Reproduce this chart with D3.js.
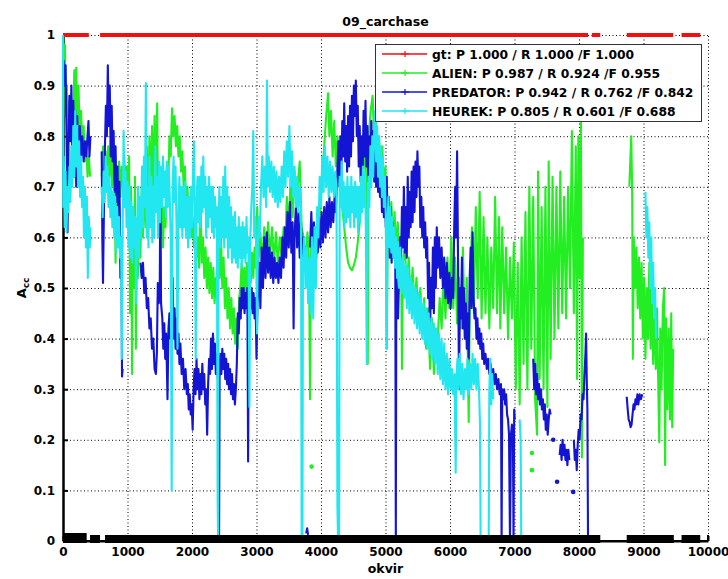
<!DOCTYPE html>
<html><head><meta charset="utf-8">
<script src="https://cdn.jsdelivr.net/npm/d3@7"></script>
<style>
body{margin:0;background:#fff}
svg{display:block}
text{font-family:"DejaVu Sans",sans-serif;font-weight:bold;fill:#000}
</style>
</head><body>
<svg id="c" width="728" height="579"></svg>
<script>
const title = "09_carchase";
const xLabel = "okvir";
const yLabelMain = "A", yLabelSub = "cc";
const xTicks = [0,1000,2000,3000,4000,5000,6000,7000,8000,9000,10000];
const yTicks = [0,0.1,0.2,0.3,0.4,0.5,0.6,0.7,0.8,0.9,1];
const legendLabels = [
  "gt: P 1.000 / R 1.000 /F 1.000",
  "ALIEN: P 0.987 / R 0.924 /F 0.955",
  "PREDATOR: P 0.942 / R 0.762 /F 0.842",
  "HEUREK: P 0.805 / R 0.601 /F 0.688"
];
const colors = ["#f01010","#22ee22","#1414d4","#22e6f0"];

// ground truth (y=1 while present)
const gt = [[0,1],[400,1],null,[575,1],[8140,1],null,[8200,1],[8330,1],null,[8740,1],[9460,1],null,[9590,1],[9880,1]];

// ALIEN
const alien = [
[0,1.0],[15,0.93],[30,0.98],[45,0.84],[60,0.9],[80,0.8],[100,0.87],[120,0.81],[140,0.86],[160,0.83],[175,0.93],[190,0.84],[205,0.935],[220,0.82],[240,0.9],[260,0.8],[280,0.85],[300,0.78],[320,0.82],[340,0.75],[360,0.79],[380,0.72],[400,0.76],[420,0.72],null,
[600,0.72],[620,0.78],[640,0.7],[660,0.77],[680,0.7],[700,0.78],[720,0.72],[740,0.79],[760,0.7],[780,0.76],[800,0.72],[815,0.55],[830,0.74],[850,0.69],[870,0.75],[890,0.68],[910,0.74],[930,0.7],[950,0.76],[970,0.7],[990,0.74],
[1010,0.62],[1025,0.76],[1040,0.45],[1055,0.7],[1070,0.33],[1085,0.66],[1100,0.5],[1115,0.72],[1130,0.38],[1145,0.62],[1160,0.52],[1180,0.68],[1200,0.56],[1220,0.7],[1240,0.6],[1260,0.74],[1280,0.62],[1300,0.78],[1320,0.64],[1340,0.8],[1360,0.66],[1380,0.82],[1400,0.68],[1420,0.84],[1440,0.7],[1460,0.865],[1475,0.62],[1490,0.7],[1510,0.6],[1530,0.68],[1550,0.58],[1570,0.66],[1590,0.62],[1610,0.74],[1630,0.7],[1650,0.8],[1670,0.76],[1690,0.855],[1710,0.8],[1730,0.84],[1750,0.78],[1770,0.82],[1790,0.76],[1810,0.8],[1830,0.73],[1850,0.77],[1870,0.7],[1890,0.74],[1910,0.66],[1930,0.7],[1950,0.62],[1970,0.67],[1990,0.6],[2010,0.64],[2030,0.58],[2050,0.62],[2070,0.56],[2090,0.6],[2110,0.54],[2130,0.69],[2150,0.55],[2170,0.6],[2190,0.52],[2210,0.58],[2230,0.5],[2250,0.56],[2270,0.49],[2290,0.55],[2310,0.48],[2330,0.54],[2350,0.47],[2370,0.52],[2390,0.5],[2410,0.64],[2430,0.52],[2450,0.6],[2470,0.5],[2490,0.56],[2510,0.46],[2530,0.52],[2550,0.44],[2570,0.5],[2590,0.42],[2610,0.48],[2630,0.41],[2650,0.46],[2670,0.39],[2690,0.44],[2710,0.38],[2730,0.48],[2750,0.5],[2770,0.55],[2790,0.49],[2810,0.54],[2830,0.48],[2850,0.55],[2870,0.5],[2890,0.56],[2910,0.51],[2930,0.57],[2950,0.52],[2970,0.58],[2990,0.54],[3010,0.66],[3030,0.55],[3060,0.61],[3090,0.55],[3120,0.62],[3150,0.56],[3180,0.63],[3210,0.56],[3240,0.62],[3270,0.55],[3300,0.61],[3330,0.55],[3360,0.6],[3390,0.56],[3420,0.62],[3450,0.6],[3470,0.68],[3500,0.62],[3530,0.72],[3560,0.64],[3590,0.73],[3620,0.66],[3650,0.72],[3670,0.75],[3700,0.62],[3730,0.6],[3760,0.55],[3790,0.61],[3815,0.55],[3830,0.28],[3845,0.58],[3870,0.55],[3900,0.61],[3930,0.56],[3960,0.62],[3990,0.66],[4020,0.72],[4050,0.78],[4080,0.84],[4110,0.885],[4130,0.8],[4155,0.85],[4180,0.76],[4205,0.83],[4230,0.74],[4255,0.8],[4280,0.72],[4305,0.75],[4330,0.66],[4360,0.62],[4390,0.58],[4420,0.55],[4450,0.54],[4480,0.535],[4510,0.545],[4540,0.56],[4570,0.59],[4600,0.63],[4630,0.68],[4660,0.74],[4690,0.78],[4710,0.6],[4725,0.35],[4740,0.8],[4770,0.85],[4800,0.88],[4825,0.79],[4850,0.83],[4875,0.74],[4900,0.8],[4925,0.72],[4950,0.78],[4975,0.7],[5000,0.74],[5020,0.38],[5040,0.68],[5065,0.62],[5090,0.67],[5115,0.6],[5140,0.65],[5165,0.58],[5190,0.63],[5215,0.56],[5240,0.6],[5255,0.34],[5270,0.55],[5300,0.58],[5330,0.5],[5360,0.56],[5390,0.48],[5420,0.54],[5450,0.46],[5480,0.52],[5510,0.44],[5540,0.5],[5570,0.42],[5600,0.48],[5630,0.38],[5660,0.46],[5690,0.34],[5720,0.44],[5750,0.33],[5780,0.42],[5810,0.4],[5840,0.48],[5870,0.42],[5900,0.52],[5930,0.44],[5960,0.56],[5990,0.46],[6020,0.6],[6050,0.46],[6080,0.56],[6110,0.43],[6140,0.52],[6170,0.42],[6200,0.58],[6230,0.4],[6260,0.52],[6290,0.235],[6310,0.5],[6340,0.62],[6370,0.45],[6400,0.66],[6430,0.48],[6460,0.69],[6490,0.44],[6520,0.64],[6550,0.45],[6580,0.6],[6610,0.42],[6640,0.58],[6670,0.46],[6700,0.68],[6730,0.45],[6760,0.64],[6780,0.42],[6810,0.62],[6840,0.45],[6870,0.58],[6900,0.4],[6930,0.56],[6960,0.44],[6990,0.59],[7020,0.3],[7050,0.55],[7080,0.27],[7110,0.6],[7140,0.35],[7170,0.65],[7200,0.3],[7230,0.7],[7260,0.38],[7290,0.68],[7320,0.28],[7350,0.21],[7365,0.73],[7390,0.32],[7420,0.66],[7450,0.3],[7480,0.7],[7510,0.265],[7530,0.75],[7560,0.36],[7590,0.72],[7620,0.4],[7650,0.7],[7680,0.42],[7710,0.73],[7740,0.45],[7770,0.68],[7800,0.44],[7830,0.7],[7860,0.5],[7890,0.81],[7920,0.45],[7950,0.78],[7970,0.32],[7990,0.8],[8010,0.52],[8030,0.83],[8045,0.165],[8060,0.6],null,
[3855,0.147],null,[7270,0.174],null,[7270,0.14],null,
[8780,0.7],[8795,0.75],[8810,0.8],[8825,0.68],[8835,0.36],[8850,0.6],[8870,0.5],[8890,0.58],[8910,0.46],[8930,0.56],[8950,0.44],[8970,0.55],[8990,0.4],[9010,0.52],[9030,0.36],[9050,0.5],[9070,0.4],[9090,0.55],[9110,0.38],[9130,0.5],[9150,0.35],[9170,0.48],[9190,0.34],[9210,0.46],[9230,0.3],[9245,0.195],[9260,0.42],[9280,0.3],[9300,0.46],[9320,0.5],[9335,0.15],[9350,0.44],[9370,0.26],[9390,0.42],[9410,0.24],[9430,0.45],[9445,0.225],[9460,0.38]
];

// PREDATOR
const predator = [
[10,0.95],[25,0.9],[40,0.94],[55,0.8],[70,0.61],[85,0.78],[100,0.88],[115,0.79],[130,0.9],[145,0.76],[160,0.87],[175,0.72],[190,0.85],[205,0.7],[220,0.84],[240,0.75],[260,0.82],[280,0.76],[300,0.8],[320,0.75],[340,0.79],[360,0.76],[380,0.8],[395,0.83],[410,0.76],[425,0.8],null,
[600,0.77],[610,0.6],[620,0.51],[635,0.66],[650,0.78],[665,0.86],[680,0.8],[695,0.94],[710,0.82],[725,0.9],[740,0.76],[755,0.86],[770,0.75],[785,0.81],[800,0.69],[815,0.78],[830,0.67],[845,0.74],[860,0.6],[875,0.71],[890,0.52],[905,0.6],[915,0.325],[925,0.34],null,
[1200,0.55],[1220,0.52],[1240,0.55],[1260,0.49],[1280,0.52],[1300,0.46],[1320,0.48],[1340,0.42],[1360,0.44],[1380,0.38],[1400,0.4],[1420,0.34],[1440,0.33],[1455,0.37],[1470,0.51],[1485,0.47],[1500,0.5],[1510,0.72],[1520,0.47],[1540,0.44],[1555,0.38],[1570,0.43],[1585,0.36],[1600,0.41],[1620,0.28],[1635,0.42],[1650,0.45],[1665,0.4],[1680,0.48],[1700,0.52],[1715,0.4],[1730,0.46],[1745,0.38],[1760,0.44],[1775,0.37],[1790,0.41],[1805,0.35],[1820,0.39],[1840,0.33],[1860,0.36],[1880,0.3],[1900,0.34],[1920,0.29],[1935,0.31],[1950,0.26],[1965,0.29],[1980,0.25],[1995,0.27],[2010,0.22],[2025,0.3],[2040,0.34],[2055,0.29],[2070,0.36],[2085,0.3],[2100,0.34],[2115,0.28],[2130,0.33],[2145,0.29],[2160,0.35],[2175,0.3],[2190,0.33],[2205,0.27],[2220,0.3],[2235,0.21],[2250,0.31],[2265,0.36],[2280,0.33],[2295,0.4],[2310,0.34],[2325,0.41],[2340,0.35],[2355,0.39],[2370,0.33],[2385,0.37],[2400,0.32],[2412,0.35],[2420,0.0],[2428,0.34],[2440,0.37],[2455,0.33],[2470,0.38],[2485,0.34],[2500,0.37],[2515,0.32],[2530,0.36],[2545,0.31],[2560,0.35],[2575,0.3],[2590,0.34],[2605,0.29],[2620,0.33],[2635,0.28],[2650,0.31],[2665,0.27],[2680,0.3],[2695,0.35],[2710,0.45],[2725,0.41],[2740,0.48],[2755,0.44],[2770,0.5],[2785,0.46],[2800,0.5],[2815,0.45],[2830,0.49],[2845,0.46],[2858,0.5],[2870,0.157],[2882,0.48],[2895,0.51],[2910,0.46],[2925,0.5],[2940,0.45],[2955,0.49],[2970,0.44],[2985,0.48],[3000,0.36],[3015,0.47],[3030,0.5],[3045,0.55],[3060,0.46],[3080,0.58],[3100,0.5],[3120,0.6],[3140,0.52],[3160,0.61],[3180,0.53],[3200,0.58],[3220,0.52],[3240,0.57],[3260,0.51],[3280,0.56],[3300,0.52],[3320,0.55],[3340,0.51],[3360,0.56],[3380,0.52],[3400,0.6],[3420,0.54],[3440,0.62],[3460,0.56],[3480,0.65],[3500,0.58],[3520,0.67],[3540,0.57],[3560,0.63],[3575,0.42],[3590,0.6],[3610,0.66],[3630,0.58],[3650,0.65],[3670,0.56],[3690,0.63],[3710,0.55],[3730,0.6],[3750,0.56],null,[3770,0.015],[3785,0.025],[3800,0.012],null,
[3830,0.58],[3850,0.65],[3870,0.57],[3890,0.63],[3910,0.56],[3930,0.62],[3950,0.57],[3970,0.64],[3990,0.58],[4010,0.65],[4030,0.59],[4050,0.66],[4070,0.6],[4090,0.67],[4110,0.61],[4130,0.68],[4150,0.62],[4170,0.67],[4190,0.63],[4210,0.68],[4230,0.65],[4250,0.72],[4270,0.79],[4285,0.7],[4300,0.8],[4315,0.72],[4330,0.83],[4345,0.76],[4360,0.865],[4375,0.75],[4390,0.82],[4405,0.73],[4420,0.84],[4435,0.74],[4450,0.86],[4465,0.76],[4480,0.88],[4495,0.79],[4510,0.9],[4525,0.84],[4540,0.91],[4555,0.8],[4570,0.86],[4585,0.74],[4600,0.82],[4615,0.71],[4630,0.8],[4645,0.72],[4660,0.85],[4675,0.76],[4690,0.87],[4705,0.74],[4720,0.82],[4735,0.71],[4750,0.8],[4765,0.72],[4780,0.83],[4795,0.73],[4810,0.81],[4825,0.71],[4840,0.78],[4855,0.7],[4870,0.77],[4885,0.69],[4900,0.76],[4915,0.68],[4930,0.74],[4945,0.65],[4960,0.72],[4975,0.64],[4990,0.7],[5005,0.62],[5020,0.72],[5035,0.58],[5050,0.68],[5065,0.56],[5080,0.66],[5095,0.55],[5110,0.63],[5125,0.56],[5140,0.6],[5152,0.55],[5160,0.0],[5168,0.53],[5180,0.46],[5195,0.44],[5210,0.52],[5225,0.6],[5240,0.55],[5255,0.66],[5270,0.58],[5285,0.7],[5300,0.57],[5315,0.66],[5330,0.56],[5345,0.72],[5360,0.6],[5375,0.69],[5390,0.62],[5405,0.73],[5420,0.63],[5435,0.74],[5450,0.65],[5465,0.75],[5480,0.68],[5495,0.77],[5510,0.7],[5525,0.74],[5540,0.62],[5555,0.68],[5570,0.6],[5585,0.66],[5600,0.58],[5615,0.63],[5630,0.56],[5645,0.6],[5660,0.48],[5675,0.55],[5690,0.4],[5705,0.52],[5720,0.46],[5735,0.58],[5750,0.45],[5765,0.6],[5780,0.5],[5795,0.62],[5810,0.54],[5830,0.6],[5850,0.52],[5870,0.58],[5890,0.5],[5910,0.56],[5930,0.48],[5950,0.55],[5970,0.47],[5990,0.53],[6010,0.46],[6030,0.52],[6050,0.48],[6065,0.62],[6080,0.7],[6095,0.6],[6110,0.77],[6125,0.55],[6140,0.3],[6155,0.5],[6170,0.44],[6185,0.56],[6200,0.42],[6215,0.5],[6230,0.4],[6245,0.47],[6260,0.38],[6275,0.45],[6290,0.36],[6305,0.52],[6320,0.58],[6335,0.46],[6350,0.61],[6365,0.48],[6380,0.44],[6395,0.46],[6410,0.4],[6425,0.44],[6440,0.39],[6455,0.42],[6470,0.38],[6485,0.41],[6500,0.36],[6515,0.39],[6530,0.35],[6550,0.37],[6570,0.34],[6590,0.36],[6610,0.33],[6630,0.35],[6650,0.32],[6670,0.34],[6690,0.31],[6710,0.33],[6730,0.3],[6750,0.32],[6770,0.29],[6790,0.31],[6800,0.0],[6810,0.3],[6825,0.28],[6840,0.3],[6855,0.27],[6870,0.29],[6885,0.25],[6900,0.24],[6915,0.21],[6930,0.0],[6945,0.21],[6960,0.23],[6975,0.22],[6985,0.0],[6995,0.26],[7005,0.24],null,
[7290,0.36],[7305,0.3],[7320,0.35],[7335,0.29],[7350,0.33],[7365,0.28],[7380,0.31],[7395,0.27],[7410,0.3],[7425,0.26],[7440,0.28],[7455,0.24],[7470,0.27],[7485,0.22],[7500,0.25],[7515,0.21],[7530,0.24],[7545,0.26],[7560,0.25],null,
[7600,0.2],null,[7660,0.117],null,
[7700,0.17],[7715,0.19],[7730,0.16],[7745,0.2],[7760,0.17],[7775,0.19],[7790,0.16],[7805,0.18],[7820,0.15],[7835,0.18],[7850,0.16],null,
[7910,0.097],null,
[7920,0.2],[7935,0.16],[7950,0.18],[7965,0.14],[7980,0.19],[7995,0.22],[8010,0.2],[8025,0.25],[8040,0.24],[8055,0.29],[8070,0.28],[8085,0.33],[8100,0.37],[8110,0.41],[8120,0.32],[8130,0.26],[8140,0.0],null,
[8740,0.285],[8755,0.26],[8770,0.24],[8785,0.235],[8800,0.225],[8815,0.23],[8830,0.25],[8845,0.27],[8860,0.26],[8875,0.28],[8890,0.27],[8905,0.29],[8920,0.27],[8940,0.29],[8960,0.28],[8980,0.29]
];

// HEUREK
const heurek = [
[0,1.0],[4,0.66],[12,0.76],[25,0.62],[40,0.73],[55,0.61],[70,0.7],[85,0.65],[100,0.74],[115,0.67],[130,0.78],[145,0.7],[160,0.82],[175,0.72],[190,0.85],[205,0.74],[220,0.82],[235,0.7],[250,0.79],[265,0.68],[280,0.76],[295,0.66],[310,0.72],[325,0.6],[340,0.7],[355,0.58],[370,0.68],[385,0.52],[400,0.64],[415,0.58],[425,0.62],null,
[600,0.7],[615,0.64],[630,0.73],[645,0.67],[660,0.76],[675,0.69],[690,0.74],[705,0.66],[720,0.72],[735,0.64],[750,0.7],[765,0.62],[780,0.69],[795,0.6],[810,0.68],[825,0.57],[840,0.66],[855,0.58],[870,0.64],[885,0.56],[900,0.6],[912,0.36],[925,0.62],[940,0.81],[955,0.66],[970,0.73],[985,0.62],[1000,0.71],[1015,0.58],[1030,0.7],[1045,0.56],[1060,0.67],[1075,0.55],[1090,0.66],[1105,0.58],[1120,0.64],[1135,0.47],[1150,0.62],[1165,0.7],[1180,0.56],[1195,0.68],[1210,0.6],[1225,0.74],[1240,0.62],[1255,0.76],[1270,0.66],[1285,0.905],[1298,0.6],[1310,0.7],[1325,0.58],[1340,0.76],[1355,0.62],[1370,0.72],[1385,0.59],[1400,0.7],[1415,0.6],[1430,0.78],[1445,0.65],[1460,0.72],[1475,0.6],[1490,0.75],[1505,0.63],[1520,0.74],[1535,0.66],[1550,0.76],[1565,0.68],[1580,0.73],[1595,0.64],[1610,0.75],[1625,0.66],[1640,0.74],[1655,0.68],[1670,0.6],[1685,0.1],[1700,0.7],[1715,0.76],[1730,0.67],[1745,0.74],[1760,0.62],[1775,0.38],[1790,0.66],[1805,0.72],[1820,0.62],[1835,0.7],[1850,0.6],[1865,0.7],[1880,0.62],[1895,0.71],[1910,0.6],[1925,0.68],[1940,0.58],[1955,0.68],[1970,0.6],[1985,0.7],[2000,0.62],[2015,0.72],[2030,0.79],[2045,0.64],[2058,0.36],[2070,0.66],[2085,0.72],[2100,0.63],[2115,0.72],[2130,0.62],[2145,0.74],[2160,0.65],[2175,0.76],[2190,0.66],[2205,0.72],[2220,0.6],[2235,0.7],[2250,0.62],[2265,0.72],[2280,0.64],[2295,0.7],[2310,0.61],[2325,0.7],[2340,0.6],[2355,0.68],[2370,0.62],[2385,0.66],[2398,0.08],[2405,0.0],[2412,0.64],[2425,0.7],[2440,0.58],[2455,0.68],[2470,0.6],[2485,0.72],[2500,0.58],[2515,0.74],[2530,0.6],[2545,0.7],[2560,0.56],[2575,0.68],[2590,0.58],[2605,0.66],[2620,0.55],[2635,0.64],[2650,0.56],[2665,0.65],[2680,0.55],[2695,0.62],[2710,0.54],[2725,0.64],[2740,0.56],[2755,0.62],[2770,0.54],[2785,0.63],[2800,0.56],[2815,0.62],[2830,0.55],[2845,0.64],[2860,0.57],[2875,0.6],[2890,0.265],[2905,0.6],[2920,0.66],[2935,0.7],[2950,0.81],[2965,0.6],[2980,0.64],[2995,0.58],[3008,0.41],[3020,0.58],[3035,0.64],[3050,0.6],[3070,0.7],[3090,0.76],[3110,0.68],[3130,0.74],[3150,0.66],[3162,0.91],[3175,0.7],[3190,0.76],[3210,0.69],[3230,0.75],[3250,0.68],[3270,0.74],[3290,0.67],[3310,0.73],[3330,0.66],[3350,0.72],[3370,0.67],[3390,0.74],[3410,0.68],[3430,0.77],[3450,0.7],[3470,0.79],[3490,0.72],[3510,0.82],[3530,0.7],[3550,0.77],[3570,0.68],[3590,0.74],[3610,0.66],[3630,0.72],[3650,0.65],[3670,0.7],[3690,0.66],[3700,0.0],[3712,0.0],[3720,0.55],[3740,0.6],[3760,0.5],[3780,0.58],[3800,0.47],[3820,0.56],[3840,0.45],[3860,0.6],[3880,0.44],[3900,0.62],[3920,0.5],[3940,0.66],[3960,0.6],[3980,0.72],[4000,0.66],[4020,0.76],[4040,0.69],[4060,0.78],[4080,0.7],[4100,0.76],[4120,0.68],[4140,0.75],[4160,0.69],[4180,0.74],[4200,0.68],[4220,0.73],[4240,0.7],[4255,0.067],[4265,0.0],[4280,0.0],[4290,0.72],[4305,0.66],[4320,0.75],[4335,0.65],[4350,0.71],[4365,0.62],[4380,0.7],[4395,0.63],[4410,0.72],[4425,0.64],[4440,0.7],[4455,0.62],[4470,0.72],[4485,0.65],[4500,0.7],[4515,0.62],[4530,0.71],[4545,0.64],[4560,0.7],[4575,0.61],[4590,0.7],[4605,0.63],[4620,0.72],[4635,0.65],[4650,0.74],[4665,0.66],[4680,0.73],[4695,0.62],[4710,0.35],[4722,0.62],[4735,0.72],[4750,0.66],[4765,0.78],[4780,0.7],[4795,0.8],[4810,0.72],[4825,0.82],[4840,0.85],[4855,0.75],[4870,0.82],[4885,0.72],[4900,0.8],[4915,0.7],[4930,0.78],[4945,0.68],[4960,0.76],[4975,0.66],[4990,0.72],[5005,0.64],[5018,0.38],[5030,0.62],[5045,0.68],[5060,0.58],[5075,0.66],[5090,0.57],[5105,0.64],[5120,0.56],[5135,0.62],[5150,0.54],[5165,0.6],[5180,0.52],[5195,0.59],[5210,0.5],[5230,0.58],[5250,0.49],[5270,0.56],[5290,0.48],[5310,0.55],[5330,0.46],[5350,0.54],[5370,0.45],[5390,0.52],[5410,0.44],[5430,0.51],[5450,0.43],[5470,0.5],[5490,0.42],[5510,0.49],[5530,0.41],[5550,0.48],[5570,0.4],[5590,0.47],[5610,0.39],[5630,0.46],[5650,0.38],[5670,0.45],[5690,0.37],[5710,0.44],[5730,0.36],[5750,0.43],[5770,0.35],[5790,0.42],[5810,0.33],[5830,0.41],[5850,0.32],[5870,0.4],[5890,0.31],[5910,0.39],[5930,0.3],[5950,0.37],[5970,0.29],[5990,0.36],[6010,0.3],[6030,0.34],[6050,0.29],[6070,0.33],[6088,0.135],[6100,0.32],[6115,0.36],[6130,0.3],[6150,0.37],[6170,0.29],[6190,0.35],[6210,0.28],[6230,0.34],[6250,0.3],[6270,0.36],[6290,0.29],[6310,0.35],[6330,0.3],[6350,0.37],[6370,0.31],[6390,0.36],[6410,0.3],[6430,0.35],[6450,0.3],[6465,0.23],[6475,0.0],[6600,0.0],[6610,0.3],[6625,0.36],[6640,0.27],[6655,0.33],[6670,0.28],null,
[7080,0.24],[7095,0.2],[7105,0.0],[7290,0.0],null,
[7840,0.0],[7910,0.0],null,
[8060,0.0],[8170,0.0],null,
[8770,0.0],[9020,0.0],null,
[9030,0.69],[9045,0.6],[9060,0.66],[9075,0.56],[9090,0.63],[9105,0.5],[9120,0.6],[9135,0.47],[9150,0.55],[9165,0.44],[9180,0.5],[9195,0.4],null,
[9210,0.0],[9470,0.0],null,
[9590,0.0],[9870,0.0]
];

// black band along y = 0 (frame ranges)
const bandTall = [[0,367]];
const band = [[419,574],[651,8330],[8740,9470],[9590,9880]];

const series = [gt, alien, predator, heurek];

const svg = d3.select("#c");
const x = d3.scaleLinear().domain([0,10000]).range([63,708]);
const y = d3.scaleLinear().domain([0,1]).range([541,35]);

// grid
const grid = svg.append("g").attr("stroke","#000").attr("stroke-width",1).attr("stroke-dasharray","1,2.5");
grid.selectAll(".gx").data(xTicks.filter(t=>t>0)).join("line")
  .attr("x1",d=>x(d)+0.5).attr("x2",d=>x(d)+0.5).attr("y1",y(0)).attr("y2",y(1));
grid.selectAll(".gy").data(yTicks.filter(t=>t>0)).join("line")
  .attr("x1",x(0)).attr("x2",x(10000)).attr("y1",d=>y(d)+0.5).attr("y2",d=>y(d)+0.5);

// axes
const yAxis = d3.axisLeft(y).tickValues(yTicks).tickSizeInner(-5).tickSizeOuter(0).tickPadding(8).tickFormat(d=>String(d));
const gy = svg.append("g").attr("transform",`translate(${x(0)},0)`).call(yAxis);
gy.select(".domain").attr("stroke","#000").attr("stroke-width",2.5);
gy.selectAll(".tick line").attr("stroke","#000").attr("stroke-width",2);
gy.selectAll(".tick text").attr("font-size",12).attr("font-family","DejaVu Sans").attr("font-weight","bold");

const xAxis = d3.axisBottom(x).tickValues(xTicks).tickSizeInner(-5).tickSizeOuter(0).tickPadding(6).tickFormat(d=>String(d));
const gx = svg.append("g").attr("transform",`translate(0,${y(0)})`).call(xAxis);
gx.select(".domain").attr("stroke","#000").attr("stroke-width",2);
gx.selectAll(".tick line").attr("stroke","#000").attr("stroke-width",2);
gx.selectAll(".tick text").attr("font-size",12).attr("font-family","DejaVu Sans").attr("font-weight","bold");

// series lines
const line = d3.line().defined(d=>d!=null).x(d=>x(d[0])).y(d=>y(d[1]));
const widths = [4,2.1,2.1,2.1];
series.forEach((s,i)=>{
  svg.append("path").datum(s).attr("d",line).attr("fill","none")
    .attr("stroke",colors[i]).attr("stroke-width",widths[i]).attr("stroke-linejoin","round");
  const iso = s.filter((d,j)=>d && !s[j-1] && !s[j+1]);
  svg.append("g").selectAll("circle").data(iso).join("circle")
    .attr("cx",d=>x(d[0])).attr("cy",d=>y(d[1])).attr("r",2.3).attr("fill",colors[i]);
});

// black band at y=0
svg.append("g").selectAll("rect").data(band).join("rect")
  .attr("x",d=>x(d[0])).attr("width",d=>x(d[1])-x(d[0])).attr("y",y(0)-6).attr("height",8).attr("fill","#000");
svg.append("g").selectAll("rect").data(bandTall).join("rect")
  .attr("x",d=>x(d[0])).attr("width",d=>x(d[1])-x(d[0])).attr("y",y(0)-8).attr("height",10).attr("fill","#000");
svg.append("line").attr("x1",x(0)).attr("x2",x(10000)).attr("y1",y(0)).attr("y2",y(0)).attr("stroke","#000").attr("stroke-width",2);
svg.append("line").attr("x1",x(10000)).attr("x2",x(10000)).attr("y1",y(0)).attr("y2",y(0)-6).attr("stroke","#000").attr("stroke-width",2);

// title & labels
svg.append("text").attr("x",(x(0)+x(10000))/2).attr("y",26).attr("text-anchor","middle").attr("font-size",12.5).text(title);
svg.append("text").attr("x",(x(0)+x(10000))/2).attr("y",573).attr("text-anchor","middle").attr("font-size",12.5).text(xLabel);
const yl = svg.append("text").attr("transform",`translate(26,${(y(0)+y(1))/2}) rotate(-90)`).attr("text-anchor","middle").attr("font-size",13);
yl.append("tspan").text(yLabelMain);
yl.append("tspan").attr("font-size",9).attr("dy",3).text(yLabelSub);

// legend
const lg = svg.append("g");
lg.append("rect").attr("x",375.5).attr("y",44.5).attr("width",326).attr("height",77).attr("fill","#fff").attr("stroke","#333").attr("stroke-width",1);
const rowY = [54,73,92,111];
legendLabels.forEach((t,i)=>{
  lg.append("line").attr("x1",382).attr("x2",427).attr("y1",rowY[i]).attr("y2",rowY[i]).attr("stroke",colors[i]).attr("stroke-width",1.5);
  lg.append("path").attr("d",`M${401},${rowY[i]}h8M${405},${rowY[i]-3}v6`).attr("stroke",colors[i]).attr("stroke-width",1.2);
  lg.append("text").attr("x",432).attr("y",rowY[i]+4.5).attr("font-size",12.3).text(t);
});
</script>
</body></html>
